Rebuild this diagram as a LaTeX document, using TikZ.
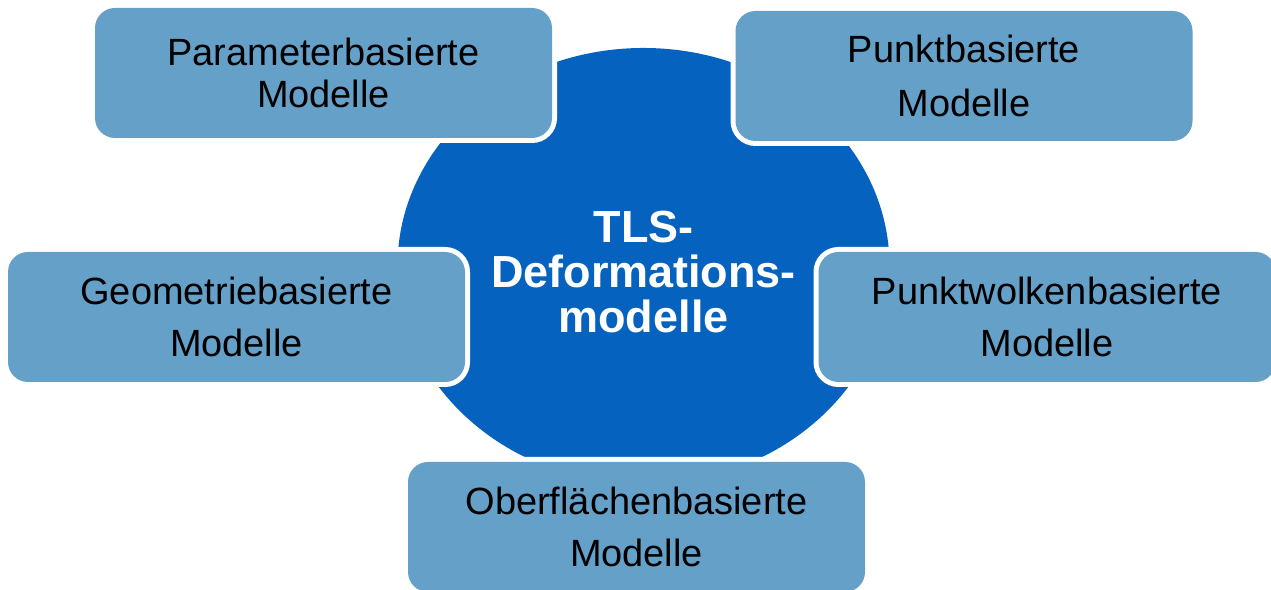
\documentclass[tikz,border=0pt]{standalone}
\usepackage{fontspec}
\setmainfont{Liberation Sans}
\usepackage{tikz}
\usetikzlibrary{shapes.geometric}
\definecolor{coreBlue}{HTML}{0563BF}
\definecolor{boxBlue}{HTML}{65A0C9}

\tikzset{
  modelbox/.style={rectangle, rounded corners=0.2cm, fill=boxBlue,
    preaction={draw=white, line width=1mm},
    minimum width=4.57cm, minimum height=1.3cm, inner sep=0pt,
    align=center, text=black, font=\fontsize{10.8}{15}\selectfont},
  core/.style={ellipse, fill=coreBlue, minimum width=4.92cm,
    minimum height=4.36cm, inner sep=0pt},
  coretext/.style={align=center, text=white,
    font=\fontsize{12.8}{12.9}\selectfont\bfseries}
}

\begin{document}
\begin{tikzpicture}
        \useasboundingbox (0,0) rectangle (12.71,5.90);
        % centre
        \node[core] (core) at (6.435,3.24) {};
        \node[coretext] (title) at ([yshift=-0.06cm]core.center) {TLS-\\Deformations-\\modelle};
        % model families
        \node[modelbox] (param) at (3.235,5.17) {Parameterbasierte\\[-3pt]Modelle};
        \node[modelbox] (punkt) at (9.64,5.14) {Punktbasierte\\[0.6pt]Modelle};
        \node[modelbox] (geom) at (2.365,2.73) {Geometriebasierte\\Modelle};
        \node[modelbox] (wolke) at (10.47,2.73) {Punktwolkenbasierte\\Modelle};
        \node[modelbox] (flaeche) at (6.365,0.63) {Oberflächenbasierte\\Modelle};
      \end{tikzpicture}
\end{document}
